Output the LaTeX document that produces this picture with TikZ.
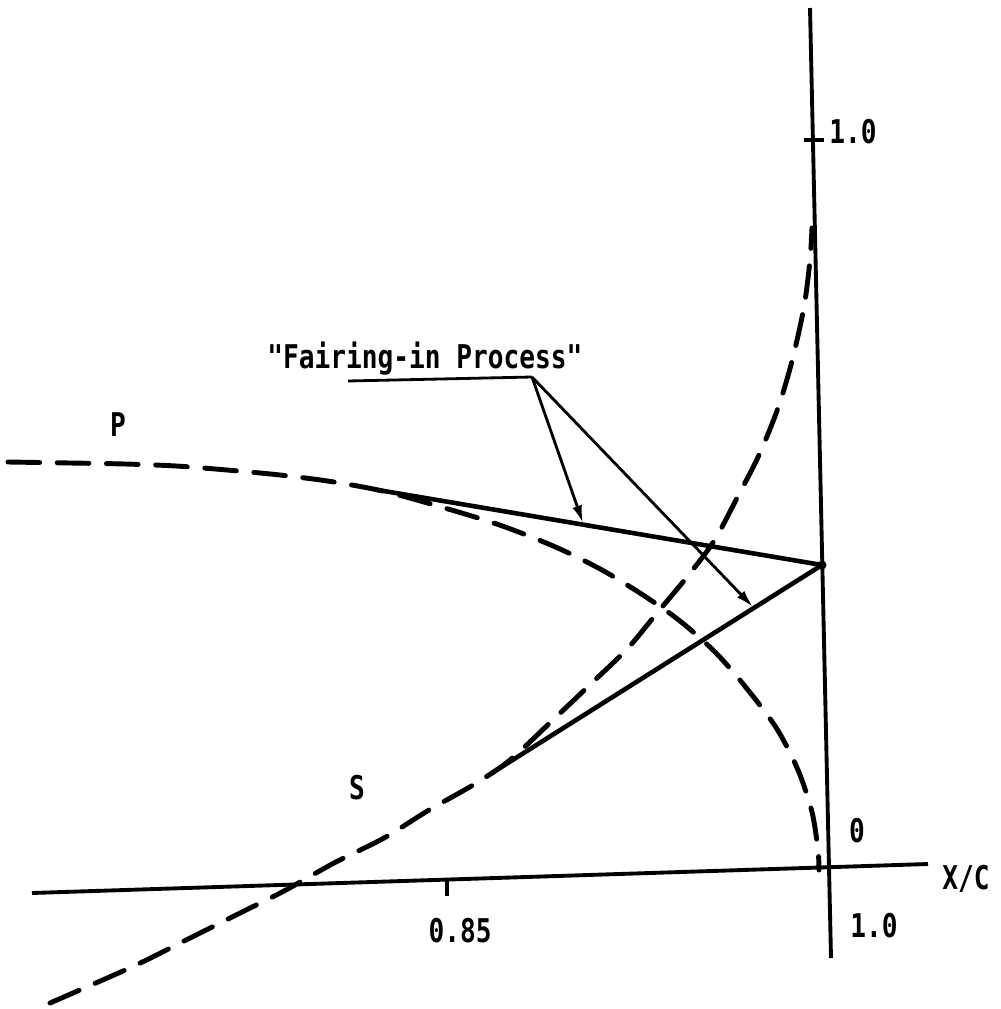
\documentclass[tikz,border=0pt]{standalone}
\usepackage{fontspec}
\newfontfamily\plotfont{DejaVu Sans Mono}
\usetikzlibrary{arrows.meta}
\newcommand{\plotlabel}[1]{\scalebox{0.8}[1]{\plotfont\bfseries #1}}
\tikzset{
  axisline/.style={line width=1.1pt},
  surface/.style={line width=1.4pt, dash pattern=on 9pt off 5pt, line cap=round},
  fairline/.style={line width=1.3pt},
  leader/.style={line width=0.8pt, -{Latex[length=5pt,width=2.8pt]}},
  lbl/.style={inner sep=0pt, anchor=base, font=\fontsize{9.3}{10}\selectfont},
}

\begin{document}
\begin{tikzpicture}[x=0.01cm,y=-0.01cm]
  \useasboundingbox (0,0) rectangle (1001,1009);

  % axes
  \coordinate (ytop) at (810,8);
  \coordinate (ybot) at (831,958);
  \coordinate (xleft) at (32,893);
  \coordinate (xright) at (928,864);
  \draw[axisline] (ytop) -- (ybot);
  \draw[axisline] (xleft) -- (xright);

  % ticks
  \coordinate (tickA) at (447,880);
  \coordinate (tickB) at (447,896);
  \draw[axisline] (tickA) -- (tickB);
  \coordinate (tickC) at (804,140);
  \coordinate (tickD) at (824,140);
  \draw[axisline] (tickC) -- (tickD);

  % pressure side P
  \draw[surface] plot[smooth] coordinates {(8,462) (70,463) (125,464) (176,466)
    (227,470) (280,475) (334,482) (391,493) (475,517) (516,531) (560,549)
    (602,570) (643,595) (680,621) (716,653) (748,690) (777,729) (798,770)
    (812,812) (818,850) (819,870)};

  % suction side S
  \draw[surface] plot[smooth] coordinates {(50,1003) (134,966) (188,939)
    (236,915) (284,891) (334,863) (384,838) (429,810) (473,785) (510,760)
    (556,717) (595,680) (628,648) (657,613) (687,577) (714,541) (737,498)
    (759,455) (778,408) (792,361) (804,307) (810,260) (812,228)};

  % faired trailing edge
  \coordinate (te) at (822,565);
  \coordinate (tanP) at (378,490);
  \coordinate (tanS) at (492,773);
  \draw[fairline] (tanP) -- (te);
  \draw[fairline] (tanS) -- (te);
  \fill (te) circle (4.5);

  % label with leaders
  \node[lbl] (fair) at (425,368) {\plotlabel{"Fairing-in Process"}};
  \coordinate (uleft) at (348,381);
  \coordinate (uright) at (532,377);
  \coordinate (tipP) at (583,523);
  \coordinate (tipS) at (753,607);
  \draw[line width=0.8pt] (uleft) -- (uright);
  \draw[leader] (uright) -- (tipP);
  \draw[leader] (uright) -- (tipS);

  % axis labels
  \node[lbl] (labP) at (118,436) {\plotlabel{P}};
  \node[lbl] (labS) at (357,799) {\plotlabel{S}};
  \node[lbl] (yone) at (853,143) {\plotlabel{1.0}};
  \node[lbl] (yzero) at (857,842) {\plotlabel{0}};
  \node[lbl] (xlab) at (966,889) {\plotlabel{X/C}};
  \node[lbl] (xone) at (874,937) {\plotlabel{1.0}};
  \node[lbl] (xmid) at (460,942) {\plotlabel{0.85}};
\end{tikzpicture}
\end{document}
